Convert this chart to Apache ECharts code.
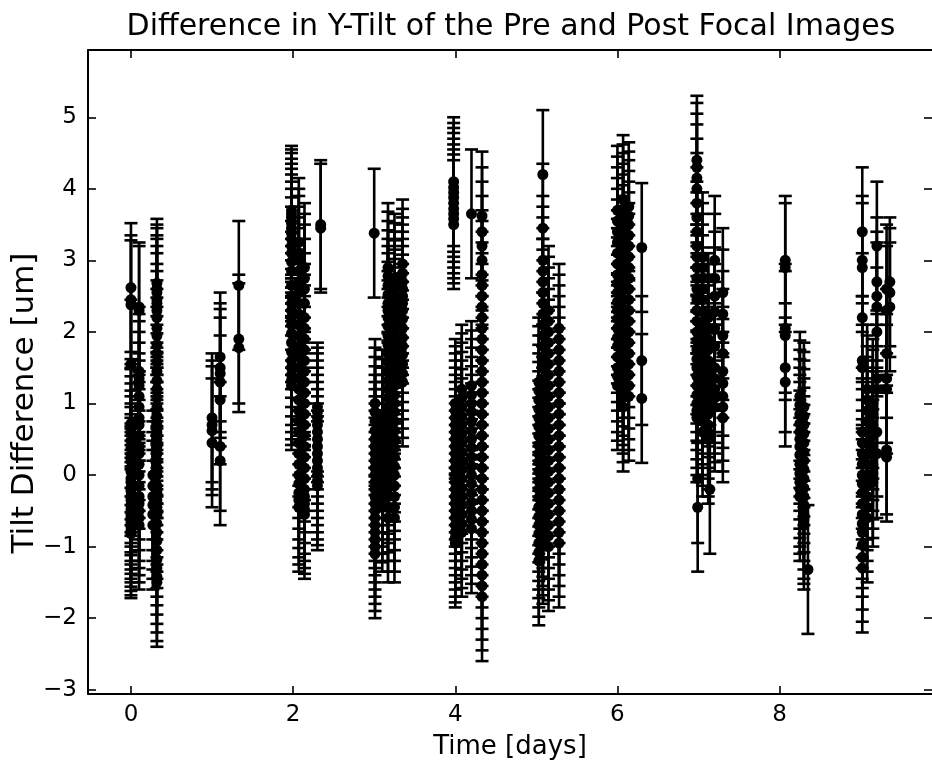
<!DOCTYPE html>
<html>
<head>
<meta charset="utf-8">
<script src="https://cdn.jsdelivr.net/npm/echarts@6/dist/echarts.min.js"></script>
<style>
html,body{margin:0;padding:0;background:#fff;}
#chart{width:932px;height:765px;}
</style>
</head>
<body>
<div id="chart"></div>
<script>
// ---- Data ----
const TITLE = 'Difference in Y-Tilt of the Pre and Post Focal Images';
const X_LABEL = 'Time [days]';
const Y_LABEL = 'Tilt Difference [um]';
const X_TICKS = [0, 2, 4, 6, 8];
const Y_TICKS = [-3, -2, -1, 0, 1, 2, 3, 4, 5];
const ERR = 0.9; // half-length of each error bar [um]

// Each observation column: a time (days) and the tilt differences measured there
const colTimes = [
  0.0, 0.1, 0.27, 0.32,
  1.0, 1.1, 1.33,
  1.98, 2.07, 2.14, 2.3, 2.34,
  3.0, 3.01, 3.1, 3.17, 3.25, 3.35,
  3.98, 4.0, 4.08, 4.2, 4.33,
  5.03, 5.08, 5.15, 5.28,
  6.0, 6.07, 6.14, 6.3,
  6.98, 6.99, 7.05, 7.12, 7.14, 7.2, 7.3,
  8.07, 8.25, 8.3, 8.35,
  9.02, 9.08, 9.15, 9.2, 9.32, 9.36
];
const colValues = [
  [2.62, 2.45, 2.38, 1.55, 0.72, 0.6, 0.48, 0.38, 0.28, 0.2, 0.1, 0.05, -0.05, -0.1, -0.18, -0.22, -0.3, -0.35, -0.42, -0.48, -0.55, -0.6, -0.66, -0.72, -0.78, -0.82],
  [2.35, 2.3, 1.45, 1.35, 1.25, 1.1, 0.95, 0.8, 0.7, 0.55, 0.4, 0.3, 0.15, 0.0, -0.15, -0.3, -0.4, -0.5, -0.6, -0.7],
  [0.0, -0.15, -0.3, -0.42, -0.55, -0.7],
  [2.68, 2.6, 2.55, 2.45, 2.4, 2.3, 2.2, 2.05, 1.95, 1.82, 1.7, 1.58, 1.45, 1.32, 1.2, 1.08, 0.95, 0.82, 0.7, 0.6, 0.5, 0.4, 0.3, 0.2, 0.1, 0.0, -0.15, -0.25, -0.35, -0.45, -0.55, -0.68, -0.8, -0.92, -1.05, -1.18, -1.3, -1.42, -1.5],
  [0.8, 0.7, 0.62, 0.45],
  [1.65, 1.5, 1.42, 1.3, 1.05, 0.4, 0.2],
  [2.65, 1.9, 1.78],
  [3.7, 3.65, 3.6, 3.52, 3.45, 3.38, 3.3, 3.2, 3.1, 2.98, 2.85, 2.65, 2.5, 2.4, 2.3, 2.2, 2.1, 1.98, 1.85, 1.72, 1.6, 1.5, 1.4, 1.32, 1.25],
  [3.25, 3.1, 3.0, 2.85, 2.7, 2.55, 2.4, 2.25, 2.1, 1.95, 1.8, 1.65, 1.5, 1.35, 1.2, 1.05, 0.9, 0.75, 0.6, 0.45, 0.3, 0.15, 0.0, -0.12, -0.25, -0.35, -0.45],
  [2.9, 2.75, 2.6, 2.4, 2.2, 2.05, 1.9, 1.75, 1.6, 1.45, 1.3, 1.15, 1.0, 0.85, 0.7, 0.55, 0.4, 0.25, 0.1, -0.05, -0.2, -0.3, -0.4, -0.48, -0.55],
  [0.95, 0.88, 0.8, 0.7, 0.6, 0.5, 0.4, 0.3, 0.2, 0.1, 0.0, -0.08, -0.15],
  [3.5, 3.45],
  [3.38],
  [1.0, 0.88, 0.75, 0.62, 0.5, 0.4, 0.3, 0.2, 0.1, 0.0, -0.1, -0.2, -0.3, -0.4, -0.5, -0.6, -0.7, -0.8, -0.9, -1.0, -1.1],
  [0.85, 0.72, 0.6, 0.5, 0.4, 0.3, 0.2, 0.1, 0.0, -0.1, -0.2, -0.32, -0.45],
  [2.9, 2.78, 2.65, 2.52, 2.4, 2.3, 2.2, 2.08, 1.95, 1.82, 1.7, 1.58, 1.45, 1.32, 1.2, 1.08, 0.95, 0.82, 0.7, 0.58, 0.45, 0.32, 0.2, 0.08, -0.05, -0.18, -0.3, -0.45, -0.6],
  [2.75, 2.62, 2.5, 2.38, 2.25, 2.12, 2.0, 1.88, 1.75, 1.62, 1.5, 1.38, 1.25, 1.12, 1.0, 0.88, 0.75, 0.62, 0.5, 0.38, 0.25, 0.12, 0.0, -0.15, -0.3, -0.45, -0.6],
  [2.95, 2.82, 2.7, 2.6, 2.5, 2.4, 2.3, 2.18, 2.05, 1.92, 1.8, 1.68, 1.55, 1.42, 1.3],
  [4.1, 4.02, 3.95, 3.88, 3.8, 3.72, 3.65, 3.58, 3.5],
  [1.0, 0.9, 0.8, 0.7, 0.6, 0.5, 0.4, 0.3, 0.2, 0.1, 0.0, -0.1, -0.2, -0.3, -0.4, -0.5, -0.6, -0.7, -0.8, -0.88, -0.95],
  [1.2, 1.08, 0.95, 0.82, 0.7, 0.58, 0.45, 0.32, 0.2, 0.08, -0.05, -0.18, -0.3, -0.42, -0.55, -0.68, -0.8],
  [3.65, 1.25, 1.12, 1.0, 0.88, 0.75, 0.62, 0.5, 0.38, 0.25, 0.12, 0.0, -0.12, -0.25, -0.38, -0.5, -0.62, -0.75],
  [3.62, 3.4, 3.2, 3.0, 2.8, 2.65, 2.5, 2.35, 2.2, 2.05, 1.9, 1.75, 1.6, 1.45, 1.3, 1.15, 1.0, 0.85, 0.7, 0.55, 0.4, 0.25, 0.1, -0.05, -0.2, -0.35, -0.5, -0.65, -0.8, -0.95, -1.1, -1.25, -1.4, -1.55, -1.7],
  [1.3, 1.18, 1.05, 0.92, 0.8, 0.68, 0.55, 0.42, 0.3, 0.18, 0.05, -0.08, -0.2, -0.32, -0.45, -0.58, -0.7, -0.82, -0.95, -1.08, -1.2],
  [4.2, 3.45, 3.0, 2.85, 2.7, 2.55, 2.4, 2.25, 2.1, 1.95, 1.8, 1.65, 1.5, 1.35, 1.2, 1.05, 0.9, 0.75, 0.6, 0.48, 0.35, 0.22, 0.1, -0.02, -0.15, -0.28, -0.4, -0.52, -0.65, -0.78, -0.9],
  [2.3, 2.15, 2.0, 1.85, 1.7, 1.55, 1.4, 1.25, 1.1, 0.95, 0.8, 0.65, 0.5, 0.35, 0.2, 0.05, -0.1, -0.25, -0.4, -0.55, -0.7, -0.85, -1.0],
  [2.05, 1.9, 1.75, 1.6, 1.45, 1.3, 1.15, 1.0, 0.85, 0.7, 0.55, 0.4, 0.25, 0.1, -0.05, -0.2, -0.35, -0.5, -0.65, -0.8, -0.95],
  [3.7, 3.55, 3.4, 3.25, 3.1, 2.95, 2.8, 2.68, 2.55, 2.42, 2.3, 2.18, 2.05, 1.92, 1.8, 1.65, 1.5, 1.38, 1.25],
  [3.85, 3.72, 3.6, 3.45, 3.3, 3.15, 3.0, 2.85, 2.7, 2.58, 2.45, 2.32, 2.2, 2.08, 1.95, 1.82, 1.7, 1.58, 1.45, 1.32, 1.2, 1.08, 0.95],
  [3.75, 3.62, 3.5, 3.35, 3.2, 3.05, 2.9, 2.75, 2.6, 2.45, 2.3, 2.15, 2.0, 1.85, 1.7, 1.55, 1.4, 1.25, 1.1],
  [3.18, 1.6, 1.07],
  [4.4, 4.3, 4.15, 4.0, 3.8, 3.6, 3.4, 3.2, 3.05, 2.9, 2.75, 2.6, 2.45, 2.3, 2.15, 2.0, 1.88, 1.75, 1.62, 1.5, 1.38, 1.25, 1.12, 1.0, 0.9, 0.8],
  [-0.05, -0.45],
  [3.05, 2.9, 2.75, 2.6, 2.45, 2.28, 2.1, 1.95, 1.8, 1.65, 1.5, 1.35, 1.2, 1.05, 0.9, 0.75, 0.6],
  [2.2, 2.05, 1.9, 1.75, 1.6, 1.45, 1.3, 1.15, 1.0, 0.85, 0.7, 0.6, 0.5],
  [-0.2],
  [3.0, 2.75, 2.5, 2.28, 2.05, 1.8, 1.5, 1.35, 1.2, 1.08, 0.95],
  [2.55, 2.25, 1.95, 1.7, 1.45, 1.28, 1.1, 0.95, 0.8],
  [3.0, 2.9, 2.05, 1.95, 1.5, 1.3],
  [1.1, 0.98, 0.85, 0.72, 0.6, 0.5, 0.4, 0.28, 0.15, 0.02, -0.1, -0.2, -0.3],
  [0.95, 0.82, 0.7, 0.58, 0.45, 0.32, 0.2, 0.08, -0.05, -0.18, -0.3, -0.42, -0.55, -0.62, -0.7],
  [-1.32],
  [3.4, 3.0, 2.9, 2.2, 1.6, 1.5, 0.6, 0.45, 0.3, 0.15, 0.0, -0.12, -0.25, -0.4, -0.55, -0.68, -0.8, -0.98, -1.15, -1.3],
  [1.2, 1.05, 0.9, 0.75, 0.6, 0.45, 0.3, 0.15, 0.0, -0.15, -0.3, -0.45, -0.6],
  [1.0, 0.85, 0.7, 0.55, 0.4, 0.28, 0.15, 0.02, -0.1],
  [3.2, 2.7, 2.5, 2.35, 2.0, 1.35, 1.2, 0.6, 0.3],
  [2.6, 2.3, 1.7, 1.35, 1.2, 0.35, 0.25],
  [2.7, 2.55, 2.35]
];

// ---- Build the table the library needs ----
const points = [];
colTimes.forEach((t, i) => {
  colValues[i].forEach(v => points.push([t, v, ERR]));
});

const FONT = 'DejaVu Sans';
const X_MIN = -0.53, X_MAX = 9.88;
const Y_MIN = -3.06, Y_MAX = 5.94;
const fmtMinus = v => String(v).replace('-', '\u2212');

const chart = echarts.init(document.getElementById('chart'), null, {renderer: 'canvas'});

const axisCommon = {
  type: 'value',
  axisLine: {show: true, onZero: false, lineStyle: {color: '#000', width: 2}},
  splitLine: {show: false},
};
const tickStyle = {color: '#000', width: 1.6};

chart.setOption({
  animation: false,
  backgroundColor: '#fff',
  graphic: [
    {
      type: 'text',
      x: 511, y: 12,
      style: {text: TITLE, font: '30px "DejaVu Sans"', fill: '#000', align: 'center', verticalAlign: 'top'}
    },
    {
      type: 'text',
      x: 25, y: 403,
      rotation: Math.PI / 2,
      style: {text: Y_LABEL, font: '31px "DejaVu Sans"', fill: '#000', align: 'center', verticalAlign: 'middle'}
    }
  ],
  grid: {left: 88, top: 50, right: 0, bottom: 62, containLabel: false},
  xAxis: [
    Object.assign({}, axisCommon, {
      min: X_MIN, max: X_MAX, position: 'bottom',
      axisTick: {show: true, inside: true, length: 8, lineStyle: tickStyle, customValues: X_TICKS},
      axisLabel: {show: true, customValues: X_TICKS, color: '#000', fontFamily: FONT, fontSize: 23, margin: 10, formatter: fmtMinus},
      name: X_LABEL, nameLocation: 'middle', nameGap: 40,
      nameTextStyle: {color: '#000', fontFamily: FONT, fontSize: 26}
    }),
    Object.assign({}, axisCommon, {
      min: X_MIN, max: X_MAX, position: 'top',
      axisTick: {show: true, inside: true, length: 8, lineStyle: tickStyle, customValues: X_TICKS},
      axisLabel: {show: false}
    })
  ],
  yAxis: [
    Object.assign({}, axisCommon, {
      min: Y_MIN, max: Y_MAX, position: 'left',
      axisTick: {show: true, inside: true, length: 8, lineStyle: tickStyle, customValues: Y_TICKS},
      axisLabel: {show: true, customValues: Y_TICKS, color: '#000', fontFamily: FONT, fontSize: 23, margin: 11, formatter: fmtMinus}
    }),
    Object.assign({}, axisCommon, {
      min: Y_MIN, max: Y_MAX, position: 'right',
      axisLine: {show: false, onZero: false},
      axisTick: {show: true, inside: true, length: 8, lineStyle: tickStyle, customValues: Y_TICKS},
      axisLabel: {show: false}
    })
  ],
  series: [
    {
      type: 'custom',
      xAxisIndex: 0, yAxisIndex: 0,
      data: points,
      encode: {x: 0, y: 1},
      clip: true,
      renderItem: function (params, api) {
        const x = api.value(0), y = api.value(1), e = api.value(2);
        const lo = api.coord([x, y - e]);
        const hi = api.coord([x, y + e]);
        const cw = 6.5;
        const st = {stroke: '#000', lineWidth: 2.6};
        return {
          type: 'group',
          children: [
            {type: 'line', shape: {x1: lo[0], y1: lo[1], x2: hi[0], y2: hi[1]}, style: st},
            {type: 'line', shape: {x1: lo[0] - cw, y1: lo[1], x2: lo[0] + cw, y2: lo[1]}, style: st},
            {type: 'line', shape: {x1: hi[0] - cw, y1: hi[1], x2: hi[0] + cw, y2: hi[1]}, style: st}
          ]
        };
      }
    },
    {
      type: 'scatter',
      xAxisIndex: 0, yAxisIndex: 0,
      data: points,
      encode: {x: 0, y: 1},
      symbol: 'circle',
      symbolSize: 11,
      itemStyle: {color: '#000', opacity: 1},
      z: 3
    }
  ]
});
</script>
</body>
</html>
